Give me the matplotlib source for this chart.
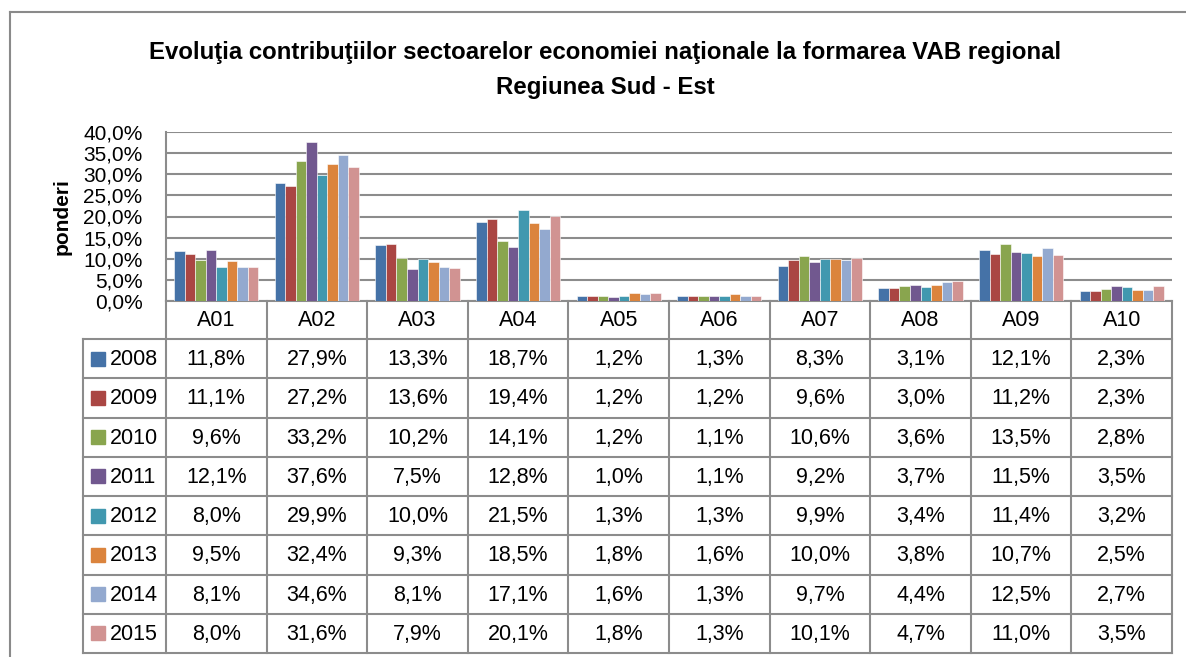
import matplotlib
matplotlib.use('Agg')
import matplotlib.pyplot as plt
from matplotlib.patches import Rectangle
import numpy as np

# data
categories = ['A01', 'A02', 'A03', 'A04', 'A05', 'A06', 'A07', 'A08', 'A09', 'A10']
years = ['2008', '2009', '2010', '2011', '2012', '2013', '2014', '2015']
v2008 = [11.8, 27.9, 13.3, 18.7, 1.2, 1.3, 8.3, 3.1, 12.1, 2.3]
v2009 = [11.1, 27.2, 13.6, 19.4, 1.2, 1.2, 9.6, 3.0, 11.2, 2.3]
v2010 = [9.6, 33.2, 10.2, 14.1, 1.2, 1.1, 10.6, 3.6, 13.5, 2.8]
v2011 = [12.1, 37.6, 7.5, 12.8, 1.0, 1.1, 9.2, 3.7, 11.5, 3.5]
v2012 = [8.0, 29.9, 10.0, 21.5, 1.3, 1.3, 9.9, 3.4, 11.4, 3.2]
v2013 = [9.5, 32.4, 9.3, 18.5, 1.8, 1.6, 10.0, 3.8, 10.7, 2.5]
v2014 = [8.1, 34.6, 8.1, 17.1, 1.6, 1.3, 9.7, 4.4, 12.5, 2.7]
v2015 = [8.0, 31.6, 7.9, 20.1, 1.8, 1.3, 10.1, 4.7, 11.0, 3.5]
yticks = [0, 5, 10, 15, 20, 25, 30, 35, 40]

series = [v2008, v2009, v2010, v2011, v2012, v2013, v2014, v2015]
colors = ['#4572A7', '#AA4643', '#89A54E', '#71588F',
          '#4198AF', '#DB843D', '#93A9CF', '#D19392']

plt.rcParams['font.family'] = ['Liberation Sans', 'DejaVu Sans']


def pct(v):
    return f'{v:.1f}%'.replace('.', ',')


W, H = 1186, 657
fig = plt.figure(figsize=(W / 100, H / 100), dpi=100)

# layout in pixels
left, right = 166, 1172
top, base = 132, 301
leg_left = 83
row0 = 339
row_h = 39.25
line_c = '#8c8c8c'
fs = 15.5

ax = fig.add_axes([left / W, 1 - base / H, (right - left) / W, (base - top) / H])
n = len(categories)
x = np.arange(n)
group = 0.835
bw = group / len(years)
for i, (vals, c) in enumerate(zip(series, colors)):
    ax.bar(x - group / 2 + bw * (i + 0.5), vals, bw, color=c,
           edgecolor='white', linewidth=0.4, zorder=3)
ax.set_xlim(-0.5, n - 0.5)
ax.set_ylim(0, 40)
ax.set_yticks(yticks)
ax.set_yticklabels([pct(t) for t in yticks], fontsize=15)
ax.yaxis.grid(True, color=line_c, lw=1.5)
ax.set_axisbelow(True)
ax.set_xticks([])
for s in ['top', 'right', 'bottom']:
    ax.spines[s].set_visible(False)
ax.spines['left'].set_color(line_c)
ax.spines['left'].set_linewidth(1.5)
ax.tick_params(axis='y', length=0, pad=17)
ax.patch.set_alpha(0)

# titles
fig.text(605 / W, 1 - 59 / H,
         'Evoluţia contribuţiilor sectoarelor economiei naţionale la formarea VAB regional',
         ha='center', va='baseline', fontsize=17.3, fontweight='bold')
fig.text(605 / W, 1 - 94 / H, 'Regiunea Sud - Est',
         ha='center', va='baseline', fontsize=17.3, fontweight='bold')
fig.text(62 / W, 1 - 217 / H, 'ponderi', rotation=90, ha='center', va='center',
         fontsize=15, fontweight='bold')

# overlay in pixel coordinates for the data table and frame
ov = fig.add_axes([0, 0, 1, 1], zorder=-1)
ov.set_xlim(0, W)
ov.set_ylim(H, 0)
ov.axis('off')

ov.plot([10, 10], [12, H], color='#8a8a8a', lw=1.5)
ov.plot([10, W], [12, 12], color='#8a8a8a', lw=1.5)

colw = (right - left) / n
bottom = row0 + row_h * len(years)
ov.plot([left, right], [base, base], color=line_c, lw=1.5)
for k in range(len(years) + 1):
    yy = row0 + k * row_h
    ov.plot([leg_left, right], [yy, yy], color=line_c, lw=1.5)
for j in range(n + 1):
    xx = left + j * colw
    ov.plot([xx, xx], [base, bottom], color=line_c, lw=1.5)
ov.plot([leg_left, leg_left], [row0, bottom], color=line_c, lw=1.5)

for j, cat in enumerate(categories):
    ov.text(left + (j + 0.5) * colw, (base + row0) / 2 + 1, cat,
            ha='center', va='center', fontsize=fs)

for i, (yr, vals, c) in enumerate(zip(years, series, colors)):
    yc = row0 + (i + 0.5) * row_h
    ov.add_patch(Rectangle((91, yc - 7), 14, 14, color=c))
    ov.text(110, yc + 1, yr, ha='left', va='center', fontsize=fs)
    for j, v in enumerate(vals):
        ov.text(left + (j + 0.5) * colw, yc + 1, pct(v),
                ha='center', va='center', fontsize=fs)

fig.savefig('out.png', dpi=100, facecolor='white')
